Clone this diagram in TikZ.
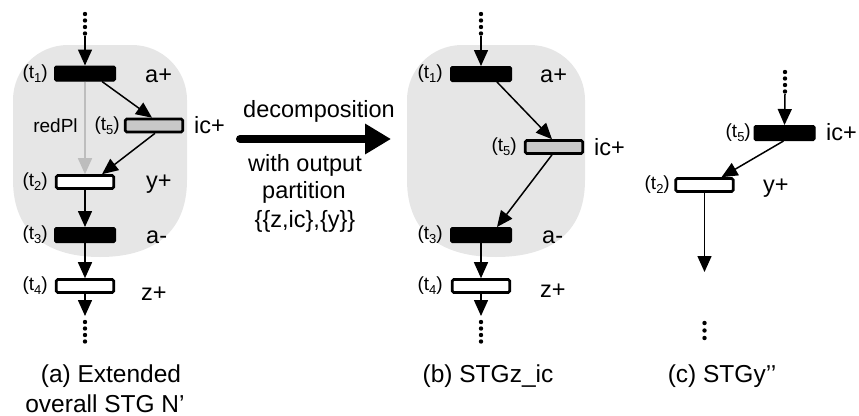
\documentclass[tikz,border=0pt]{standalone}
\usepackage{fontspec}
\setmainfont{Liberation Sans}
\usetikzlibrary{arrows.meta}
\definecolor{bggray}{HTML}{E6E6E6}
\definecolor{tgray}{HTML}{C8C8C8}
\definecolor{redgray}{HTML}{BDBDBD}
\newcommand\tlab[1]{(t\raisebox{-0.2em}{\fontsize{13}{13}\selectfont #1})}
\begin{document}
\begin{tikzpicture}[x=1pt,y=-1pt,
  blk/.style={rectangle, rounded corners=1.5pt, inner sep=0pt, fill=black, draw=black, line width=1pt, minimum width=61pt, minimum height=15pt},
  wht/.style={rectangle, rounded corners=1.5pt, inner sep=0pt, fill=white, draw=black, line width=2.6pt, minimum width=57.5pt, minimum height=13pt},
  gry/.style={wht, fill=tgray},
  small/.style={font=\fontsize{19}{21}\selectfont, inner sep=0pt},
  lab/.style={font=\fontsize{23.5}{26}\selectfont, inner sep=0pt, anchor=base west},
  mid/.style={font=\fontsize{23.5}{26}\selectfont, inner sep=0pt, anchor=base},
  captext/.style={font=\fontsize{24.5}{28}\selectfont, inner sep=0pt, anchor=base},
  arr/.style={line width=1.5pt, -{Triangle[width=14pt,length=16pt]}},
  dotr/.style={fill=black}]
\useasboundingbox (0,0) rectangle (859,415);

% background shapes
\fill[bggray] (13,180) -- (13,100) arc[start angle=180, end angle=90, radius=55pt] -- (132,45) arc[start angle=90, end angle=0, radius=55pt] -- (187,180) .. controls (187,235) and (150,257) .. (100,257) .. controls (50,257) and (13,235) .. cycle;
\fill[bggray] (407,180) -- (407,100) arc[start angle=180, end angle=90, radius=55pt] -- (530,45) arc[start angle=90, end angle=0, radius=55pt] -- (585,180) .. controls (585,235) and (548,257) .. (496,257) .. controls (444,257) and (407,235) .. cycle;

% ---------- (a) ----------
\foreach \yy in {14,20.5,27,33.5} \fill[dotr] (85,\yy) circle[radius=2.2pt];
\foreach \yy in {322,328.5,335,341.5} \fill[dotr] (85,\yy) circle[radius=2.2pt];
\coordinate (topA) at (85,36);
\coordinate (endA) at (85,316);
\node[blk] (t1a) at (85,73.5) {};
\node[gry] (t5a) at (154,125.5) {};
\node[wht] (t2a) at (85,182) {};
\node[blk] (t3a) at (85,235) {};
\node[wht] (t4a) at (85,286) {};

\node[small, anchor=east] (l1a) at (48,74) {\tlab{1}};
\node[small, anchor=east] (l5a) at (120,126) {\tlab{5}};
\node[small, anchor=east] (l2a) at (48,182) {\tlab{2}};
\node[small, anchor=east] (l3a) at (48,235) {\tlab{3}};
\node[small, anchor=east] (l4a) at (48,286) {\tlab{4}};
\node[small] (redpl) at (55.5,126) {redPl};
\node[lab] (apa) at (145,82) {a+};
\node[lab] (ica) at (194,133) {ic+};
\node[lab] (ypa) at (146,188) {y+};
\node[lab] (ama) at (146,243) {a-};
\node[lab] (zpa) at (141,300) {z+};

\draw[arr] (topA) -- (t1a.north);
\draw[arr, redgray] (t1a.south) -- (t2a.north);
\draw[arr] ([xshift=17pt]t1a.south) -- ([xshift=-2pt]t5a.north);
\draw[arr] ([xshift=1pt]t5a.south) -- ([xshift=17pt]t2a.north);
\draw[arr] (t2a.south) -- (t3a.north);
\draw[arr] (t3a.south) -- (t4a.north);
\draw[arr] (t4a.south) -- (endA);

\node[captext] (capa1) at (111,382) {(a) Extended};
\node[captext] (capa2) at (105,412) {overall STG N’};

% ---------- main arrow ----------
\coordinate (decA) at (240,139);
\coordinate (decB) at (391,139);
\draw[line width=8pt, line cap=round, -{Triangle[width=29pt,length=26pt]}] (decA) -- (decB);
\node[mid] (dec) at (319,117) {decomposition};
\node[mid] (wo) at (305,171) {with output};
\node[mid] (pa) at (304,198) {partition};
\node[mid] (zz) at (305,227) {\{\{z,ic\},\{y\}\}};

% ---------- (b) ----------
\foreach \yy in {14,20.5,27,33.5} \fill[dotr] (481,\yy) circle[radius=2.2pt];
\foreach \yy in {322,328.5,335,341.5} \fill[dotr] (481,\yy) circle[radius=2.2pt];
\coordinate (topB) at (481,36);
\coordinate (endB) at (481,316);
\node[blk] (t1b) at (481,74) {};
\node[gry] (t5b) at (554,147) {};
\node[blk] (t3b) at (481,235) {};
\node[wht] (t4b) at (481,286) {};

\node[small, anchor=east] (l1b) at (443,74) {\tlab{1}};
\node[small, anchor=east] (l5b) at (517,147) {\tlab{5}};
\node[small, anchor=east] (l3b) at (443,235) {\tlab{3}};
\node[small, anchor=east] (l4b) at (443,286) {\tlab{4}};
\node[lab] (apb) at (540,82) {a+};
\node[lab] (icb) at (594,155) {ic+};
\node[lab] (amb) at (542,243) {a-};
\node[lab] (zpb) at (540,297) {z+};

\draw[arr] (topB) -- (t1b.north);
\draw[arr] ([xshift=16pt]t1b.south) -- ([xshift=-2pt]t5b.north);
\draw[arr] ([xshift=-2pt]t5b.south) -- ([xshift=16pt]t3b.north);
\draw[arr] (t3b.south) -- (t4b.north);
\draw[arr] (t4b.south) -- (endB);

\node[captext] (capb) at (488,382) {(b) STGz\_ic};

% ---------- (c) ----------
\foreach \yy in {72,78.5,85,91.5} \fill[dotr] (785,\yy) circle[radius=2.2pt];
\foreach \yy in {323,330.5,338} \fill[dotr] (704.5,\yy) circle[radius=2.2pt];
\coordinate (topC) at (785,94);
\coordinate (endC) at (704.5,272);
\node[blk] (t5c) at (784.5,133) {};
\node[wht] (t2c) at (704.5,185) {};

\node[small, anchor=east] (l5c) at (751,133) {\tlab{5}};
\node[small, anchor=east] (l2c) at (670,185) {\tlab{2}};
\node[lab] (icc) at (826,140) {ic+};
\node[lab] (ypc) at (763,192) {y+};

\draw[arr] (topC) -- (t5c.north);
\draw[arr] ([xshift=-1pt]t5c.south) -- ([xshift=17pt]t2c.north);
\draw[arr] (t2c.south) -- (endC);

\node[captext] (capc) at (722,382) {(c) STGy’’};
\end{tikzpicture}
\end{document}
